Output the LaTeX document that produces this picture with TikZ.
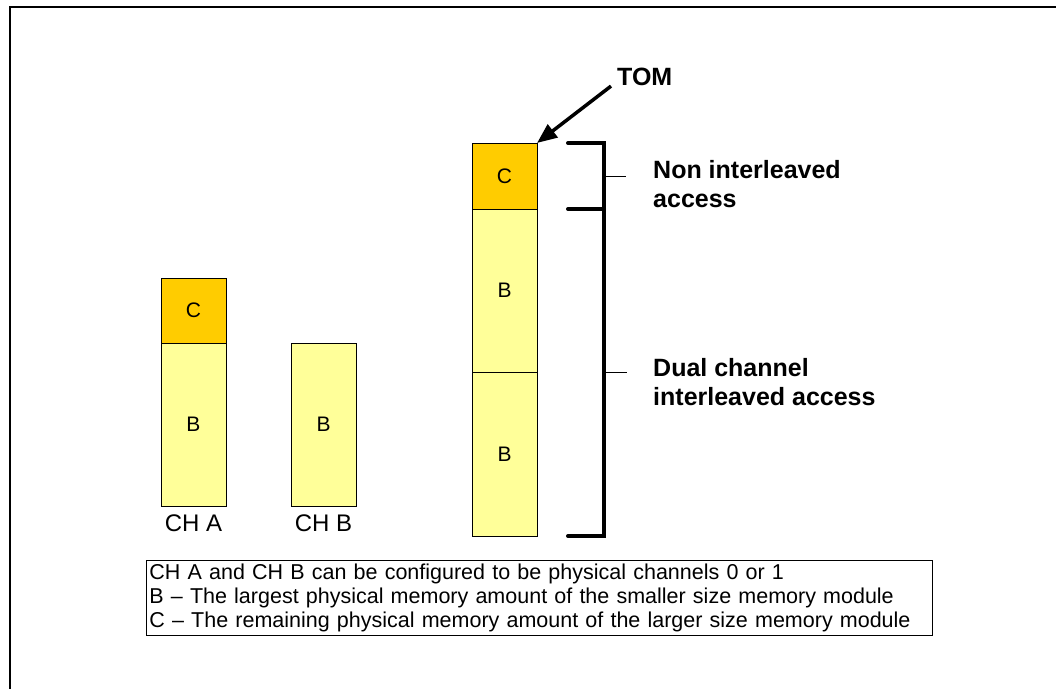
\documentclass[tikz,border=0pt]{standalone}
\usepackage{fontspec}
\setmainfont{Liberation Sans}
\usepackage{xcolor}
\usepackage{tikz}
\usetikzlibrary{arrows.meta, positioning}

\definecolor{orangeC}{HTML}{FFCC00}
\definecolor{yellowB}{HTML}{FFFF99}

\begin{document}
\begin{tikzpicture}[
    x=1pt, y=-1pt,
    node distance=0pt,
    block/.style={
        rectangle,
        draw,
        line width=0.8pt,
        inner sep=0pt,
        outer sep=0pt,
        minimum width=65pt,
        font=\fontsize{21}{25}\selectfont
    },
    cpart/.style={block, fill=orangeC},
    bpart/.style={block, fill=yellowB},
    chlabel/.style={inner sep=0pt, font=\fontsize{24}{28}\selectfont},
    note/.style={
        inner sep=0pt,
        anchor=north west,
        align=left,
        font=\bfseries\fontsize{25}{29}\selectfont
    },
    brace/.style={line width=4pt, line cap=round},
    tick/.style={line width=0.8pt}
]
  \useasboundingbox (0,0) rectangle (1056,688);
  \draw[line width=2pt] (10,7) rectangle (1080,710);

  \node[cpart, minimum height=65pt, anchor=north west] (ac) at (161,278) {C};
  \node[bpart, minimum height=163pt, below=of ac] (ab) {B};
  \node[bpart, minimum height=163pt, anchor=north west] (bb) at (291,343) {B};
  \node[chlabel, below=9pt of ab] (cha) {CH A};
  \node[chlabel, below=9pt of bb] (chb) {CH B};

  \node[cpart, minimum height=66pt, anchor=north west] (sc) at (472,143) {C};
  \node[bpart, minimum height=163pt, below=of sc] (sb1) {B};
  \node[bpart, minimum height=164pt, below=of sb1] (sb2) {B};

  \draw[brace]
    ([xshift=31pt]sc.north east) -- ([xshift=67pt]sc.north east)
    -- ([xshift=67pt]sb2.south east) -- ([xshift=31pt]sb2.south east);
  \draw[brace] ([xshift=31pt]sc.south east) -- ([xshift=67pt]sc.south east);
  \draw[tick] ([xshift=67pt]sc.east) -- ([xshift=89pt]sc.east);
  \draw[tick] ([xshift=67pt]sb1.south east) -- ([xshift=90pt]sb1.south east);

  \node[note] (nonint) at (653,160) {Non interleaved\\access};
  \node[note] (dual) at (653,358) {Dual channel\\interleaved access};

  \node[note] (tom) at (617,68) {TOM};
  \draw[line width=3.5pt, -{Triangle[length=20pt, width=16pt]}]
    ([xshift=-6pt]tom.south west) -- (sc.north east);

  \node[
    draw,
    line width=0.8pt,
    anchor=north west,
    align=left,
    inner xsep=3pt,
    inner ysep=3pt,
    text width=780pt,
    minimum height=75pt,
    font=\fontsize{21.5}{24}\selectfont
  ] (legend) at (146,560)
  {CH A and CH B can be configured to be physical channels 0 or 1\\
   B -- The largest physical memory amount of the smaller size memory module\\
   C -- The remaining physical memory amount of the larger size memory module};
\end{tikzpicture}
\end{document}
